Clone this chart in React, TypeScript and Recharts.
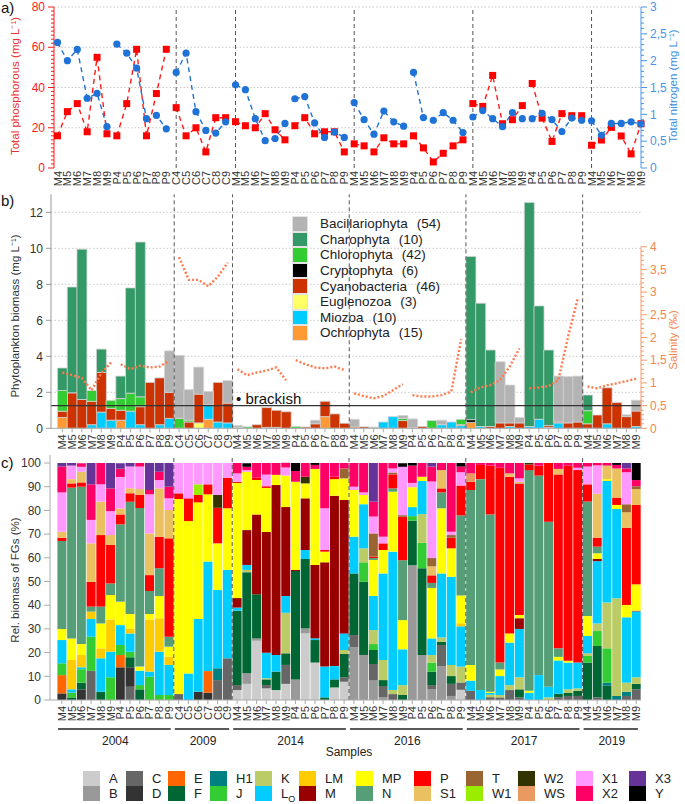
import React from "react";
import {
  ComposedChart,
  Bar,
  Line,
  XAxis,
  YAxis,
  CartesianGrid,
  ReferenceLine,
} from "recharts";

const FONT = "'Liberation Sans', Arial, Helvetica, sans-serif";

// sampling campaigns (M / P / C sites, months 4-9)
const years = ["2004", "2009", "2014", "2016", "2017", "2019"];
const samplesMP = ["M4", "M5", "M6", "M7", "M8", "M9", "P4", "P5", "P6", "P7", "P8", "P9"];
const samplesC = ["C4", "C5", "C6", "C7", "C8", "C9"];
const samplesM = ["M4", "M5", "M6", "M7", "M8", "M9"];
const samplesByYear = [samplesMP, samplesC, samplesMP, samplesMP, samplesMP, samplesM];

// a) total phosphorous (left axis) and total nitrogen (right axis)
const totalP = [
  16, 28, 32, 18, 55, 17, 16, 32, 59, 16, 37, 59,
  30, 16, 20, 8, 25, 25,
  23, 21, 20, 27, 19, 14, 21, 25, 17, 18, 18, 8,
  12, 11, 8, 15, 12, 12, 16, 10, 3, 7.3, 11, 14,
  32, 30.6, 46, 22, 24, 31, 42, 24.8, 13.2, 27, 26, 26,
  11.3, 13.9, 20.2, 15.9, 7, 22,
];
const totalN = [
  2.34, 2.0, 2.21, 1.3, 1.39, 0.77, 2.31, 2.14, 1.86, 0.92, 0.98, 0.73,
  1.78, 2.14, 1.05, 0.7, 0.65, 0.86,
  1.55, 1.46, 0.92, 0.51, 0.55, 0.83, 1.29, 1.33, 0.84, 0.57, 0.67, 0.57,
  1.22, 0.9, 0.63, 1.06, 0.86, 0.78, 1.78, 0.94, 0.89, 1.03, 0.89, 0.66,
  0.95, 1.07, 0.92, 0.77, 1.03, 0.92, 0.92, 1.02, 0.9, 0.68, 0.93, 0.89,
  0.88, 0.61, 0.83, 0.83, 0.86, 0.82,
];

// b) salinity (‰)
const salinity = [
  1.23, 1.17, 1.11, 0.84, 1.21, 1.45, 1.41, 1.3, 1.38, 1.34, 1.36, 1.49,
  3.77, 3.27, 3.27, 3.13, 3.34, 3.65,
  1.3, 1.17, 1.23, 1.27, 1.34, 1.06, 1.5, 1.41, 1.34, 1.32, 1.36, 1.28,
  0.77, 0.71, 0.66, 0.71, 0.84, 0.97, 0.73, 0.7, 0.7, 0.73, 0.81, 1.96,
  0.79, 0.9, 0.95, 1.06, 1.36, 1.76, 0.88, 0.9, 0.93, 1.06, 2.02, 2.86,
  0.92, 0.88, 0.95, 0.99, 1.04, 1.09,
];
const brackishLimit = 0.5;

// b) phytoplankton biomass by phylum (mg L-1)
const phylumKeys = ["bac", "cha", "chl", "cry", "cya", "eug", "mio", "och"];
const phylumNames = [
  "Bacillariophyta", "Charophyta", "Chlorophyta", "Cryptophyta",
  "Cyanobacteria", "Euglenozoa", "Miozoa", "Ochrophyta",
];
const phylumCounts = [54, 10, 42, 6, 46, 3, 10, 15];

const biomass2004 = [
  { och: 0.6, cya: 0.35, chl: 1.15, cha: 1.25 },
  { cya: 1.97, cha: 5.88 },
  { cya: 1.6, cha: 8.35 },
  { mio: 0.2, cya: 1.3, chl: 0.6 },
  { mio: 0.9, cya: 2.2, cha: 1.3 },
  { mio: 0.45, cya: 0.65, chl: 0.45 },
  { och: 0.45, cya: 0.55, chl: 0.65, cha: 1.25 },
  { mio: 0.95, chl: 1.0, cha: 5.85 },
  { mio: 0.2, cya: 1.0, chl: 0.55, cha: 8.6 },
  { cya: 2.55 },
  { mio: 0.2, cya: 2.6 },
  { mio: 0.55, cya: 1.45, bac: 2.3 },
];
const biomass2009 = [
  { chl: 0.55, bac: 3.5 },
  { cya: 0.35, chl: 0.1, bac: 1.7 },
  { eug: 0.3, cya: 1.6, bac: 1.5 },
  { och: 0.5, mio: 0.8, bac: 0.75 },
  { mio: 0.35, cya: 2.2 },
  { mio: 0.3, cya: 1.1, bac: 1.25 },
];
const biomass2014 = [
  { chl: 0.05, bac: 0.1 },
  { chl: 0.08 },
  { cya: 0.2 },
  { mio: 0.05, cya: 1.1 },
  { mio: 0.05, cya: 0.95 },
  { cya: 0.92 },
  { chl: 0.1 },
  { cya: 0.07 },
  { cya: 0.25, bac: 0.2 },
  { och: 0.65, cya: 0.85 },
  { cya: 0.8 },
  { cya: 0.28 },
];
const biomass2016 = [
  { cya: 0.07, bac: 0.43 },
  { cya: 0.08 },
  { och: 0.04, chl: 0.03 },
  { mio: 0.35 },
  { mio: 0.65 },
  { cya: 0.43, chl: 0.12, bac: 0.16 },
  { cry: 0.03, bac: 0.49 },
  { cya: 0.1 },
  { chl: 0.43 },
  { mio: 0.2, bac: 0.25 },
  { mio: 0.35 },
  { mio: 0.15, cya: 0.05, chl: 0.3 },
];
const biomass2017 = [
  { och: 0.33, cry: 0.15, cha: 9.07 },
  { mio: 0.1, cha: 6.85 },
  { cya: 0.1, cha: 4.25 },
  { cya: 0.3, bac: 3.4 },
  { mio: 0.1, cya: 0.2, bac: 2.1 },
  { cya: 0.3, bac: 0.3 },
  { mio: 0.1, cha: 12.45 },
  { mio: 0.5, cha: 6.3 },
  { mio: 0.05, cya: 0.1, cha: 4.2 },
  { mio: 0.3, cya: 0.05, bac: 2.55 },
  { cya: 0.3, bac: 2.57 },
  { cya: 0.35, bac: 2.55 },
];
const biomass2019 = [
  { cya: 0.25, chl: 0.73, cha: 0.87 },
  { cya: 0.74 },
  { mio: 0.25, cya: 2.0 },
  { cya: 1.43 },
  { cya: 0.65, bac: 0.1 },
  { mio: 0.1, cya: 0.86, bac: 0.6 },
];

// c) relative biomass of functional groups (%)
const fgCodes = [
  "A", "B", "C", "D", "E", "F", "H1", "J", "K", "LO", "LM", "M",
  "MP", "N", "P", "S1", "T", "W1", "W2", "WS", "X1", "X2", "X3", "Y",
];

const fg2004 = [
  { D: 2.8, E: 7.7, J: 5, LO: 9.8, MP: 4.7, N: 37.1, P: 1.4, S1: 2.5, X1: 16.6, X2: 10.9, X3: 1.5 },
  { F: 1.1, J: 2, LO: 1.4, LM: 12.4, MP: 9.1, N: 63.6, P: 1.8, S1: 1.8, X1: 5.7, X3: 1.1 },
  { D: 4.5, F: 2.8, J: 5.7, LO: 0.8, LM: 5.2, MP: 4.6, N: 66.4, P: 1.8, S1: 4.5, X1: 2.1, X2: 1.5 },
  { C: 12.3, J: 14.4, LO: 7.5, LM: 3.1, N: 2.1, P: 10.5, S1: 16.2, X1: 9.9, X2: 15, X3: 9 },
  { F: 3.5, LO: 14.1, LM: 4.2, MP: 10.5, N: 7.1, P: 30.2, S1: 14.1, X1: 7.3, X2: 9 },
  { J: 9.6, LO: 10.8, LM: 13.6, MP: 10.3, N: 4.9, P: 16.2, S1: 4.2, X1: 10.1, X2: 9.6, X3: 10.7 },
  { D: 13.8, E: 5.2, J: 4.2, LO: 8.4, MP: 9.9, N: 32.6, P: 4.2, S1: 2.5, X1: 13.3, X2: 3.5, X3: 2.3 },
  { C: 5.6, D: 8.2, F: 4.2, J: 2.4, LO: 7.7, LM: 2.1, MP: 6.1, N: 47.4, P: 3.5, S1: 2.1, X1: 9.2, X3: 1.5 },
  { F: 4.5, J: 1.8, LO: 6.1, MP: 1.7, N: 66.9, P: 5.5, S1: 2.5, X1: 9.5, X2: 1.5 },
  { J: 9.8, LO: 2.2, LM: 22, MP: 2.3, N: 9.7, P: 6.7, S1: 17.6, X1: 16.5, X2: 1.8, X3: 11.4 },
  { J: 2.1, LO: 18.3, LM: 14.1, MP: 9.4, N: 11.7, P: 13.3, S1: 20.4, X1: 3.5, X2: 3.5, X3: 3.7 },
  { J: 2.1, LO: 12.7, LM: 3.5, MP: 4.2, N: 4.2, P: 41.5, S1: 12, X1: 4.9, X2: 4.9, X3: 10 },
];
const fg2009 = [
  { C: 2.5, MP: 82.3, P: 2.4, X1: 12.8 },
  { LO: 11.2, MP: 64.3, P: 9.6, X1: 14.9 },
  { D: 3.5, LO: 30.7, MP: 49.2, P: 3.1, W1: 4.5, X1: 9 },
  { D: 3.1, E: 9.1, LO: 46.2, MP: 28.4, P: 4.2, X1: 9 },
  { C: 8.4, H1: 5, LO: 33, MP: 19.7, P: 15, W2: 5.4, X1: 13.5 },
  { C: 17.6, LO: 37.3, MP: 26, P: 12.9, X1: 6.2 },
];
const fg2014 = [
  { A: 4.2, C: 2.1, F: 31.4, LO: 1.3, M: 4, MP: 48.6, P: 0.5, X1: 3.5, X2: 4.4 },
  { A: 6.8, B: 4.5, F: 42.6, K: 1, LO: 2.1, M: 14.7, MP: 24.6, X1: 0.7, X2: 1.4, Y: 1.5 },
  { A: 25, B: 1, F: 18.6, M: 33.7, MP: 14.5, P: 1, X2: 6.2 },
  { A: 4.9, C: 1.4, F: 2.4, K: 0.5, LO: 10.7, M: 51, MP: 18.6, P: 0.7, X1: 4.9, X2: 4.9 },
  { A: 4.2, F: 7.8, LO: 7, M: 71.7, MP: 4.3, X2: 5 },
  { A: 6.8, C: 8, F: 4.9, K: 17.1, LO: 7.1, M: 37.5, MP: 13.3, X1: 3.4, X2: 2 },
  { B: 8.7, F: 45.7, M: 0.5, MP: 37.2, X2: 4.5, Y: 3.4 },
  { A: 28.1, B: 2.1, F: 29.3, LO: 3.8, M: 21.8, MP: 6.3, W2: 2.8, X2: 5.8 },
  { A: 15.8, F: 9.5, LO: 0.7, M: 31, MP: 40.5, X2: 1.7, Y: 0.8 },
  { F: 1.1, LO: 13, M: 44, MP: 4.5, P: 0.7, X1: 17.6, X2: 19.1 },
  { A: 5.3, F: 3.4, LO: 5.6, M: 71.9, MP: 7, P: 1, X2: 5.8 },
  { A: 7.7, C: 1.9, F: 9.8, K: 1.7, LO: 7, M: 56.3, MP: 9.1, T: 4.2, X2: 2.3 },
];
const fg2016 = [
  { B: 22.2, C: 5.2, F: 26, LO: 15.5, MP: 19.7, X1: 1.4, X2: 10 },
  { B: 19, F: 30.9, J: 8.2, K: 5.9, LO: 18.6, MP: 3.9, X1: 1.1, X2: 12.4 },
  { B: 8.2, C: 7, F: 5.9, J: 2.5, K: 5.9, LO: 14.4, MP: 15.2, N: 0.8, P: 0.6, T: 9.8, X1: 7.1, X2: 6.3, X3: 16.3 },
  { B: 1.1, C: 4.8, F: 2.5, K: 8.5, LO: 36.5, MP: 9.9, P: 2.8, X1: 2.8, X2: 31.1 },
  { C: 2.5, K: 1.7, LO: 58.4, MP: 25.3, N: 1.4, P: 5.9, T: 0.8, X1: 1.7, X2: 2.3 },
  { F: 2.1, K: 4.2, LO: 15.1, MP: 12.3, N: 25.3, P: 18.3, T: 0.7, X1: 20.4, Y: 1.5 },
  { B: 56.8, F: 18.9, J: 1.9, LO: 3.8, MP: 8.4, X1: 1.8, X2: 7.3, Y: 1.1 },
  { B: 19, F: 36.6, J: 10.7, K: 12.1, LO: 14, MP: 1.8, X2: 5.8 },
  { B: 4.5, C: 1.8, F: 5.7, J: 3.8, K: 3.2, LO: 7, MP: 21.3, N: 2.1, P: 3.2, S1: 3.8, T: 3.5, X1: 32.3, X2: 6.3, X3: 1.5 },
  { B: 14.3, C: 8.9, F: 1.4, K: 1.8, LO: 27, MP: 27.5, N: 6.7, P: 1.7, S1: 7.7, X2: 3 },
  { B: 1.7, C: 5.1, F: 3.3, K: 4.7, LO: 37.2, MP: 12, P: 4.5, T: 1.1, X1: 1.4, X2: 29 },
  { A: 4.3, C: 3.1, K: 6.7, LO: 17, LM: 1.3, MP: 11.7, N: 33.8, P: 12.6, X1: 5.6, X2: 2.4, Y: 1.5 },
];
const fg2017 = [
  { C: 3.9, LO: 4.3, MP: 6.6, N: 73.8, P: 3.5, WS: 3.5, X2: 4.4 },
  { LO: 4.2, N: 89, P: 6, X2: 0.8 },
  { C: 1.2, K: 1, LO: 0.8, MP: 0.5, N: 74.8, P: 20.6, X2: 1.1 },
  { C: 1.1, K: 1, LO: 8, MP: 2.8, N: 2.9, P: 82.2, X2: 2 },
  { C: 4.2, K: 2.1, LO: 17.9, MP: 3.9, P: 66.1, S1: 1.4, X2: 4.4 },
  { C: 1.1, F: 3.4, K: 5.1, LO: 20.4, M: 4.5, MP: 1.4, P: 55.5, S1: 0.7, X1: 1.4, X2: 6.5 },
  { LO: 3.1, MP: 0.8, N: 93.1, P: 2.4, W2: 0.6 },
  { LO: 10.5, N: 84.2, P: 4.2, X2: 1.1 },
  { K: 1.1, LO: 4.5, N: 69.6, P: 24.8 },
  { C: 1.2, F: 1.4, LO: 14.1, MP: 1.5, N: 3.6, P: 73.4, S1: 2.3, X2: 2.5 },
  { C: 1.7, F: 1.4, K: 1.4, LO: 11.3, MP: 0.8, P: 82.3, X2: 1.1 },
  { C: 1.7, F: 2.2, K: 1, LO: 10.9, P: 81.2, X1: 1, X2: 2 },
];
const fg2019 = [
  { F: 15.8, J: 2.8, K: 1.1, LO: 7.3, MP: 8.4, N: 48.3, P: 7.3, X1: 7.5, X2: 1.5 },
  { C: 1.1, F: 21.7, J: 6.3, K: 3.2, LO: 26.3, M: 0.9, MP: 2.4, N: 2.8, P: 3.8, S1: 18.5, X1: 12, X2: 1 },
  { F: 6, H1: 1.3, J: 14.5, K: 19.3, LO: 51.3, MP: 0.8, S1: 5.7, X2: 1.1 },
  { H1: 1.7, K: 41.2, LO: 37.7, MP: 1.7, P: 3.1, S1: 12.3, X2: 1.5, Y: 0.8 },
  { C: 1.7, H1: 1.8, K: 3.8, LO: 27.6, MP: 5.2, P: 32.6, S1: 6.5, T: 3.4, X1: 13.5, X2: 1.6, X3: 2.3 },
  { C: 4.5, F: 2.3, K: 2.8, LO: 27.8, M: 0.3, MP: 11.1, P: 33.5, S1: 6.7, T: 1.2, X2: 2.6, Y: 7.2 },
];

// ---- styles ----
const RED = "#ff1a1a";
const BLUE = "#1f72d6";
const SAL = "#ff7a4d";
const phylumColors: Record<string, string> = {
  bac: "#b3b3b3", cha: "#339966", chl: "#33cc33", cry: "#000000",
  cya: "#cc3300", eug: "#ffff66", mio: "#00ccff", och: "#ff9933",
};
const fgColors: Record<string, string> = {
  A: "#cccccc", B: "#999999", C: "#666666", D: "#333333", E: "#ff6600", F: "#006633",
  H1: "#008080", J: "#33cc33", K: "#bbcc66", LO: "#00ccff", LM: "#ffcc00", M: "#990000",
  MP: "#ffff00", N: "#559e78", P: "#ff0000", S1: "#ebc060", T: "#996633", W1: "#99ee00",
  W2: "#333300", WS: "#e89a60", X1: "#ff99ff", X2: "#ff0066", X3: "#663399", Y: "#000000",
};
// left edge of each legend column (two groups per column)
const fgLegendLeft = [83, 126, 168, 210, 255, 299, 356, 414, 466, 518, 576, 629];

// ---- build rows ----
const biomass: Record<string, number>[] = [
  ...biomass2004, ...biomass2009, ...biomass2014, ...biomass2016, ...biomass2017, ...biomass2019,
];
const fgShares: Record<string, number>[] = [...fg2004, ...fg2009, ...fg2014, ...fg2016, ...fg2017, ...fg2019];

type Row = Record<string, any>;
const rows: Row[] = [];
const yearFirst: Record<string, { year: string; n: number }> = {};
const separators: string[] = [];
{
  let k = 0;
  let seg = -1;
  let prevSite = "";
  years.forEach((yr, yi) => {
    samplesByYear[yi].forEach((s, si) => {
      const key = `${yr}-${s}`;
      if (si === 0) {
        yearFirst[key] = { year: yr, n: samplesByYear[yi].length };
        if (yi > 0) separators.push(key);
      }
      const site = yr + s[0];
      if (site !== prevSite) {
        seg += 1;
        prevSite = site;
      }
      const even = seg % 2 === 0;
      const row: Row = { key, label: s };
      row.tpA = even ? totalP[k] : null;
      row.tpB = even ? null : totalP[k];
      row.tnA = even ? totalN[k] : null;
      row.tnB = even ? null : totalN[k];
      row.salA = even ? salinity[k] : null;
      row.salB = even ? null : salinity[k];
      phylumKeys.forEach((p) => (row[p] = biomass[k][p] ?? 0));
      fgCodes.forEach((f) => (row["fg_" + f] = fgShares[k][f] ?? 0));
      rows.push(row);
      k += 1;
    });
  });
}

// layout
const W = 685;
const BAND = 583.6 / rows.length;

const range = (from: number, to: number, step: number) => {
  const out: number[] = [];
  for (let v = from; v <= to + 1e-9; v += step) out.push(+v.toFixed(2));
  return out;
};

type TickOpts = {
  side: "left" | "right";
  color: string;
  labelColor?: string;
  major: number;
  majorLen: number;
  minorLen: number;
  comma?: boolean;
  segment?: number;
};
const makeYTick = (o: TickOpts) => (props: any) => {
  const { x, y, payload } = props;
  const v = Number(payload.value);
  const isMajor = Math.abs(v / o.major - Math.round(v / o.major)) < 1e-6;
  const len = isMajor ? o.majorLen : o.minorLen;
  const dir = o.side === "left" ? -1 : 1;
  const label = o.comma ? String(v).replace(".", ",") : String(v);
  return (
    <g>
      {o.segment && v > 0 ? (
        <line x1={x} x2={x} y1={y} y2={y + o.segment} stroke={o.color} strokeWidth={1} />
      ) : null}
      <line x1={x} x2={x + dir * len} y1={y} y2={y} stroke={o.color} strokeWidth={1} />
      {isMajor ? (
        <text
          x={x + dir * (o.majorLen + 3)}
          y={y}
          dy="0.35em"
          textAnchor={o.side === "left" ? "end" : "start"}
          fill={o.labelColor ?? o.color}
          fontSize={12}
          fontFamily={FONT}
        >
          {label}
        </text>
      ) : null}
    </g>
  );
};

const makeXTick = (mark: boolean, withYears: boolean) => (props: any) => {
  const { x, y, payload } = props;
  const key = String(payload.value);
  const label = key.split("-")[1];
  const first = withYears ? yearFirst[key] : undefined;
  return (
    <g>
      {mark ? <line x1={x} x2={x} y1={y} y2={y + 4} stroke="#aaa" /> : null}
      <text
        transform={`translate(${x + 4},${y + (mark ? 6 : 3)}) rotate(-90)`}
        textAnchor="end"
        fontSize={11}
        fill="#333"
        fontFamily={FONT}
      >
        {label}
      </text>
      {first ? (
        <g>
          <line
            x1={x - BAND / 2 + 1}
            x2={x + (first.n - 1) * BAND + BAND / 2 - 3}
            y1={y + 29}
            y2={y + 29}
            stroke="#222"
            strokeWidth={1.5}
          />
          <text
            x={x + ((first.n - 1) * BAND) / 2}
            y={y + 45}
            textAnchor="middle"
            fontSize={12}
            fill="#222"
            fontFamily={FONT}
          >
            {first.year}
          </text>
        </g>
      ) : null}
    </g>
  );
};

const squareDot = (props: any) => {
  const { cx, cy, value, index } = props;
  if (cx == null || cy == null || value == null) return <g key={`sq${index}`} />;
  return <rect key={`sq${index}`} x={cx - 3.5} y={cy - 3.5} width={7} height={7} fill="#ff0000" />;
};
const circleDot = (props: any) => {
  const { cx, cy, value, index } = props;
  if (cx == null || cy == null || value == null) return <g key={`ci${index}`} />;
  return <circle key={`ci${index}`} cx={cx} cy={cy} r={3.6} fill={BLUE} />;
};

// ---- panel a ----
const A_TOP = 7;
const A_BOTTOM = 168;
const pGrid = [20, 40, 60, 80];

const PanelA = () => (
  <ComposedChart width={W} height={200} data={rows} margin={{ top: A_TOP, right: 0, bottom: 0, left: 0 }}>
    <CartesianGrid
      yAxisId="left"
      vertical={false}
      horizontalPoints={pGrid.map((v) => A_BOTTOM - (v / 80) * (A_BOTTOM - A_TOP))}
      stroke="#c8c8c8"
      strokeDasharray="1.5 2"
    />
    <XAxis
      dataKey="key"
      interval={0}
      height={32}
      tick={makeXTick(false, false)}
      tickLine={false}
      axisLine={false}
      tickSize={0}
      tickMargin={0}
      padding={{ left: 3.5, right: 0 }}
    />
    <YAxis
      yAxisId="left"
      width={54}
      domain={[0, 80]}
      ticks={range(0, 80, 2)}
      interval={0}
      tick={makeYTick({ side: "left", color: RED, major: 20, majorLen: 6, minorLen: 3 })}
      tickLine={false}
      tickSize={0}
      tickMargin={0}
      axisLine={{ stroke: RED }}
    />
    <YAxis
      yAxisId="right"
      orientation="right"
      width={44}
      domain={[0, 3]}
      ticks={range(0, 3, 0.1)}
      interval={0}
      tick={makeYTick({ side: "right", color: "#4a94e6", major: 0.5, majorLen: 6, minorLen: 3, comma: true })}
      tickLine={false}
      tickSize={0}
      tickMargin={0}
      axisLine={{ stroke: "#4a94e6" }}
    />
    {separators.map((k) => (
      <ReferenceLine key={k} x={k} yAxisId="left" position="start" stroke="#555" strokeDasharray="4 3" />
    ))}
    {["tpA", "tpB"].map((k) => (
      <Line
        key={k}
        yAxisId="left"
        dataKey={k}
        stroke={RED}
        strokeWidth={1.4}
        strokeDasharray="5 4"
        dot={squareDot}
        activeDot={false}
        isAnimationActive={false}
      />
    ))}
    {["tnA", "tnB"].map((k) => (
      <Line
        key={k}
        yAxisId="right"
        dataKey={k}
        stroke={BLUE}
        strokeWidth={1.4}
        strokeDasharray="5 4"
        dot={circleDot}
        activeDot={false}
        isAnimationActive={false}
      />
    ))}
  </ComposedChart>
);

// ---- panel b ----
const B_TOP = 9.3;
const B_H = 234;
const SAL_MAX = 5.154;
const bGrid = [2, 4, 6, 8, 10, 12];

const PanelB = () => (
  <ComposedChart
    width={W}
    height={272}
    data={rows}
    margin={{ top: B_TOP, right: 0, bottom: 0, left: 0 }}
    barCategoryGap={0}
  >
    <CartesianGrid
      yAxisId="left"
      vertical={false}
      horizontalPoints={bGrid.map((v) => B_TOP + B_H - (v / 13) * B_H)}
      stroke="#c8c8c8"
      strokeDasharray="1.5 2"
    />
    <XAxis
      dataKey="key"
      interval={0}
      height={28.7}
      tick={makeXTick(true, false)}
      tickLine={false}
      axisLine={{ stroke: "#aaa" }}
      tickSize={0}
      tickMargin={0}
      padding={{ left: 6.5, right: 0 }}
    />
    <YAxis
      yAxisId="left"
      width={51}
      domain={[0, 13]}
      ticks={[0, 2, 4, 6, 8, 10, 12]}
      interval={0}
      tick={makeYTick({ side: "left", color: "#999", labelColor: "#333", major: 2, majorLen: 5, minorLen: 5 })}
      tickLine={false}
      tickSize={0}
      tickMargin={0}
      axisLine={{ stroke: "#999" }}
    />
    <YAxis
      yAxisId="right"
      orientation="right"
      width={44}
      domain={[0, SAL_MAX]}
      ticks={range(0, 4, 0.1)}
      interval={0}
      tick={makeYTick({
        side: "right",
        color: "#f79a6a",
        labelColor: "#f4864f",
        major: 0.5,
        majorLen: 6,
        minorLen: 3,
        comma: true,
        segment: (0.1 / SAL_MAX) * B_H,
      })}
      tickLine={false}
      tickSize={0}
      tickMargin={0}
      axisLine={false}
    />
    {[...phylumKeys].reverse().map((p) => (
      <Bar
        key={p}
        yAxisId="left"
        dataKey={p}
        stackId="bio"
        fill={phylumColors[p]}
        stroke="#d4d4d4"
        strokeWidth={0.8}
        isAnimationActive={false}
      />
    ))}
    {separators.map((k) => (
      <ReferenceLine key={k} x={k} yAxisId="left" position="start" stroke="#555" strokeDasharray="4 3" />
    ))}
    <ReferenceLine y={brackishLimit} yAxisId="right" stroke="#333" strokeWidth={1.2} />
    {["salA", "salB"].map((k) => (
      <Line
        key={k}
        yAxisId="right"
        dataKey={k}
        stroke={SAL}
        strokeWidth={2.4}
        strokeDasharray="2 2"
        dot={false}
        activeDot={false}
        isAnimationActive={false}
      />
    ))}
  </ComposedChart>
);

// ---- panel c ----
const PanelC = () => (
  <ComposedChart
    width={W}
    height={310}
    data={rows}
    margin={{ top: 5, right: 44, bottom: 0, left: 0 }}
    barCategoryGap={0.4}
  >
    <XAxis
      dataKey="key"
      interval={0}
      height={60}
      tick={makeXTick(true, true)}
      tickLine={false}
      axisLine={{ stroke: "#aaa" }}
      tickSize={0}
      tickMargin={0}
      padding={{ left: 7, right: 0 }}
    />
    <YAxis
      width={50}
      domain={[0, 103.38]}
      ticks={range(0, 100, 10)}
      interval={0}
      tick={makeYTick({ side: "left", color: "#aaa", labelColor: "#333", major: 10, majorLen: 6, minorLen: 6 })}
      tickLine={false}
      tickSize={0}
      tickMargin={0}
      axisLine={{ stroke: "#aaa" }}
    />
    {fgCodes.map((f) => (
      <Bar
        key={f}
        dataKey={"fg_" + f}
        stackId="fg"
        fill={fgColors[f]}
        isAnimationActive={false}
      />
    ))}
    {separators.map((k) => (
      <ReferenceLine key={k} x={k} position="start" stroke="#555" strokeDasharray="4 3" />
    ))}
  </ComposedChart>
);

const fgLabel = (f: string) =>
  f === "LO" ? (
    <span>
      L<sub style={{ fontSize: 9, lineHeight: 0 }}>O</sub>
    </span>
  ) : (
    <span>{f}</span>
  );

export default function App() {
  const fgColumns: string[][] = [];
  for (let i = 0; i < fgCodes.length; i += 2) fgColumns.push([fgCodes[i], fgCodes[i + 1]]);
  return (
    <div
      style={{
        position: "absolute",
        left: 0,
        top: 0,
        width: W,
        height: 804,
        background: "#fff",
        fontFamily: FONT,
        overflow: "hidden",
      }}
    >
      <div style={{ position: "absolute", left: 0, top: 0 }}>
        <PanelA />
      </div>
      <div style={{ position: "absolute", left: 0, top: 185 }}>
        <PanelB />
      </div>
      <div style={{ position: "absolute", left: 0, top: 450 }}>
        <PanelC />
      </div>

      {/* phylum legend */}
      <div style={{ position: "absolute", left: 292, top: 216, fontSize: 13.5, color: "#222" }}>
        {phylumNames.map((n, i) => (
          <div key={n} style={{ display: "flex", alignItems: "center", height: 15.6 }}>
            <span
              style={{
                width: 16,
                height: 15.6,
                background: phylumColors[phylumKeys[i]],
                boxSizing: "border-box",
                border: "1px solid #e4e4e4",
              }}
            />
            <span style={{ marginLeft: 12 }}>{n}</span>
            <span style={{ marginLeft: 9 }}>({phylumCounts[i]})</span>
          </div>
        ))}
      </div>

      {/* functional group legend */}
      {fgColumns.map((col, ci) => (
        <div
          key={col[0]}
          style={{
            position: "absolute",
            left: fgLegendLeft[ci],
            top: 771,
            display: "flex",
            flexDirection: "column",
            fontSize: 13,
            color: "#222",
          }}
        >
          {col.map((f) => (
            <div key={f} style={{ display: "flex", alignItems: "center", height: 15 }}>
              <span style={{ width: 17, height: 14.5, background: fgColors[f] }} />
              <span style={{ marginLeft: 9, lineHeight: "15px", whiteSpace: "nowrap" }}>{fgLabel(f)}</span>
            </div>
          ))}
        </div>
      ))}

      {/* titles and labels */}
      <svg
        width={W}
        height={804}
        style={{ position: "absolute", left: 0, top: 0, pointerEvents: "none" }}
        fontFamily={FONT}
      >
        <text x={1} y={13} fontSize={15} fill="#111">a)</text>
        <text x={1} y={206} fontSize={15} fill="#111">b)</text>
        <text x={1} y={468} fontSize={15} fill="#111">c)</text>
        <text transform="translate(19,86) rotate(-90)" textAnchor="middle" fontSize={11.5} fill="#e8322e">
          Total phosphorous (mg L⁻¹)
        </text>
        <text transform="translate(677,86) rotate(-90)" textAnchor="middle" fontSize={11.5} fill="#3b8fe0">
          Total nitrogen (mg L⁻¹)
        </text>
        <text transform="translate(19,316) rotate(-90)" textAnchor="middle" fontSize={11.5} fill="#333">
          Phytoplankton biomass (mg L⁻¹)
        </text>
        <text transform="translate(677,340) rotate(-90)" textAnchor="middle" fontSize={11.5} fill="#f4864f">
          Salinity (‰)
        </text>
        <text transform="translate(19,580) rotate(-90)" textAnchor="middle" fontSize={11.5} fill="#333">
          Rel. biomass of FGs (%)
        </text>
        <text x={236} y={404} fontSize={15} fill="#111">•  brackish</text>
        <text x={349} y={756} textAnchor="middle" fontSize={12} fill="#222">Samples</text>
      </svg>
    </div>
  );
}
